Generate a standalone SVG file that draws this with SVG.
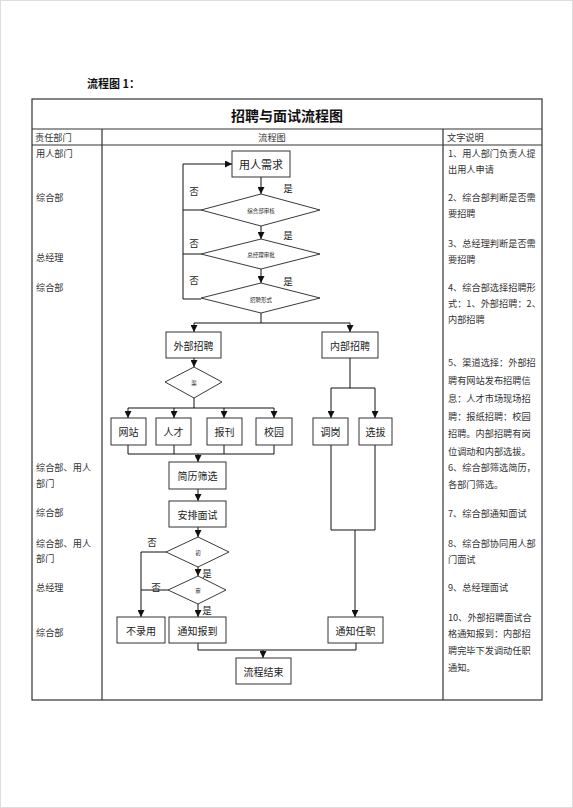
<svg xmlns="http://www.w3.org/2000/svg" width="573" height="808" viewBox="0 0 573 808">
<style>
text{font-family:"Noto Sans CJK SC","Liberation Sans",sans-serif;fill:#222}
.box{fill:#fff;stroke:#333;stroke-width:1}
.dia{fill:#fff;stroke:#222;stroke-width:0.9}
.bt{font-size:10px;text-anchor:middle;dominant-baseline:central}
.tiny{font-size:5.5px;text-anchor:middle;dominant-baseline:central}
.lbl{font-size:9.5px;text-anchor:middle;dominant-baseline:central}
.col{font-size:9.2px;fill:#333}
.tb{fill:none;stroke:#333;stroke-width:1.2}
.cn{fill:none;stroke:#111;stroke-width:1}
.ar{fill:none;stroke:#111;stroke-width:1;marker-end:url(#ah)}
</style>
<defs>
<marker id="ah" viewBox="0 0 8 8" refX="8" refY="4" markerWidth="7" markerHeight="7" markerUnits="userSpaceOnUse" orient="auto">
<path d="M0,0 L8,4 L0,8 z" fill="#111"/>
</marker>
</defs>
<rect x="0" y="0" width="573" height="808" fill="#fff"/>
<rect x="0.5" y="0.5" width="572" height="807" fill="none" stroke="#ddd" stroke-width="1"/>
<text x="87" y="88" style="font-size:11px;font-weight:bold;fill:#111">流程图 1：</text>

<g id="table">
<rect class="tb" x="32" y="99" width="510" height="601"/>
<line class="tb" x1="32" y1="129" x2="542" y2="129"/>
<line class="tb" x1="32" y1="145" x2="542" y2="145"/>
<line class="tb" x1="102" y1="129" x2="102" y2="700"/>
<line class="tb" x1="443" y1="129" x2="443" y2="700"/>
<text x="287" y="115" style="font-size:14px;font-weight:bold;text-anchor:middle;dominant-baseline:central;fill:#111">招聘与面试流程图</text>
<text x="35" y="141" class="col">责任部门</text>
<text x="272" y="141" class="col" style="text-anchor:middle">流程图</text>
<text x="447" y="141" class="col">文字说明</text>
</g>

<g id="dept-col">
<text class="col" x="36" y="157">用人部门</text>
<text class="col" x="36" y="201">综合部</text>
<text class="col" x="36" y="261">总经理</text>
<text class="col" x="36" y="291">综合部</text>
<text class="col" x="36" y="471">综合部、用人</text>
<text class="col" x="36" y="487">部门</text>
<text class="col" x="36" y="516">综合部</text>
<text class="col" x="36" y="547">综合部、用人</text>
<text class="col" x="36" y="562">部门</text>
<text class="col" x="36" y="591">总经理</text>
<text class="col" x="36" y="636">综合部</text>
</g>

<g id="desc-col">
<text class="col" x="448" y="157">1、用人部门负责人提</text>
<text class="col" x="448" y="173">出用人申请</text>
<text class="col" x="448" y="201">2、综合部判断是否需</text>
<text class="col" x="448" y="217">要招聘</text>
<text class="col" x="448" y="247">3、总经理判断是否需</text>
<text class="col" x="448" y="263">要招聘</text>
<text class="col" x="448" y="291">4、综合部选择招聘形</text>
<text class="col" x="448" y="307">式：1、外部招聘：2、</text>
<text class="col" x="448" y="323">内部招聘</text>
<text class="col" x="448" y="366">5、渠道选择：外部招</text>
<text class="col" x="448" y="384">聘有网站发布招聘信</text>
<text class="col" x="448" y="402">息：人才市场现场招</text>
<text class="col" x="448" y="420">聘：报纸招聘：校园</text>
<text class="col" x="448" y="437">招聘。内部招聘有岗</text>
<text class="col" x="448" y="455">位调动和内部选拔。</text>
<text class="col" x="448" y="471">6、综合部筛选简历，</text>
<text class="col" x="448" y="488">各部门筛选。</text>
<text class="col" x="448" y="517">7、综合部通知面试</text>
<text class="col" x="448" y="547">8、综合部协同用人部</text>
<text class="col" x="448" y="563">门面试</text>
<text class="col" x="448" y="591">9、总经理面试</text>
<text class="col" x="448" y="621">10、外部招聘面试合</text>
<text class="col" x="448" y="637">格通知报到：内部招</text>
<text class="col" x="448" y="654">聘完毕下发调动任职</text>
<text class="col" x="448" y="671">通知。</text>
</g>

<g id="connectors">
<line class="ar" x1="261" y1="177" x2="261" y2="194"/>
<line class="ar" x1="261" y1="226" x2="261" y2="239"/>
<line class="ar" x1="261" y1="269" x2="261" y2="283"/>
<polyline class="cn" points="201,210 183,210"/>
<polyline class="cn" points="201,254 183,254"/>
<polyline class="ar" points="201,299 183,299 183,164 232,164"/>
<line class="cn" x1="261" y1="313" x2="261" y2="323"/>
<line class="cn" x1="194" y1="323" x2="350" y2="323"/>
<line class="ar" x1="194" y1="323" x2="194" y2="332"/>
<line class="ar" x1="350" y1="323" x2="350" y2="332"/>
<line class="ar" x1="194" y1="358" x2="194" y2="367"/>
<line class="cn" x1="194" y1="398" x2="194" y2="408"/>
<line class="cn" x1="128" y1="408" x2="274" y2="408"/>
<line class="ar" x1="128" y1="408" x2="128" y2="418"/>
<line class="ar" x1="174" y1="408" x2="174" y2="418"/>
<line class="ar" x1="224" y1="408" x2="224" y2="418"/>
<line class="ar" x1="274" y1="408" x2="274" y2="418"/>
<polyline class="cn" points="128,445 128,454 274,454 274,445"/>
<line class="cn" x1="174" y1="445" x2="174" y2="454"/>
<line class="cn" x1="224" y1="445" x2="224" y2="454"/>
<line class="ar" x1="198" y1="454" x2="198" y2="462"/>
<line class="ar" x1="198" y1="489" x2="198" y2="501"/>
<line class="ar" x1="198" y1="527" x2="198" y2="537"/>
<line class="ar" x1="198" y1="567" x2="198" y2="576"/>
<line class="ar" x1="198" y1="604" x2="198" y2="617"/>
<polyline class="ar" points="166,552 141,552 141,617"/>
<line class="cn" x1="168" y1="590" x2="141" y2="590"/>
<line class="cn" x1="350" y1="358" x2="350" y2="388"/>
<line class="cn" x1="331" y1="388" x2="375" y2="388"/>
<line class="ar" x1="331" y1="388" x2="331" y2="418"/>
<line class="ar" x1="375" y1="388" x2="375" y2="418"/>
<polyline class="cn" points="331,445 331,530 375,530 375,445"/>
<line class="ar" x1="355" y1="530" x2="355" y2="617"/>
<polyline class="cn" points="198,643 198,650 356,650 356,643"/>
<line class="ar" x1="263" y1="650" x2="263" y2="658"/>
</g>

<g id="labels">
<text class="lbl" x="288" y="188">是</text>
<text class="lbl" x="194" y="191">否</text>
<text class="lbl" x="288" y="235">是</text>
<text class="lbl" x="194" y="243">否</text>
<text class="lbl" x="288" y="281">是</text>
<text class="lbl" x="194" y="280">否</text>
<text class="lbl" x="152" y="542">否</text>
<text class="lbl" x="207" y="573">是</text>
<text class="lbl" x="156" y="587">否</text>
<text class="lbl" x="207" y="610">是</text>
</g>

<g id="n-need"><rect class="box" x="232" y="151" width="58" height="26"/><text class="bt" x="261" y="164" style="font-size:11px">用人需求</text></g>
<g id="n-d1"><polygon class="dia" points="261,194 320,210 261,226 201,210"/><text class="tiny" x="261" y="211">综合部审核</text></g>
<g id="n-d2"><polygon class="dia" points="261,239 320,254 261,269 201,254"/><text class="tiny" x="261" y="255">总经理审批</text></g>
<g id="n-d3"><polygon class="dia" points="261,283 320,298 261,313 201,298"/><text class="tiny" x="261" y="300">招聘形式</text></g>
<g id="n-ext"><rect class="box" x="166" y="332" width="55" height="26"/><text class="bt" x="193.5" y="345">外部招聘</text></g>
<g id="n-int"><rect class="box" x="322" y="332" width="56" height="26"/><text class="bt" x="350" y="345">内部招聘</text></g>
<g id="n-ch"><polygon class="dia" points="194,367 222,382 194,398 165,382"/><text class="tiny" x="194" y="383">渠</text></g>
<g id="n-web"><rect class="box" x="111" y="418" width="35" height="27"/><text class="bt" x="128.5" y="431.5">网站</text></g>
<g id="n-talent"><rect class="box" x="156" y="418" width="35" height="27"/><text class="bt" x="173.5" y="431.5">人才</text></g>
<g id="n-paper"><rect class="box" x="207" y="418" width="35" height="27"/><text class="bt" x="224.5" y="431.5">报刊</text></g>
<g id="n-campus"><rect class="box" x="256" y="418" width="36" height="27"/><text class="bt" x="274" y="431.5">校园</text></g>
<g id="n-transfer"><rect class="box" x="313" y="418" width="35" height="27"/><text class="bt" x="330.5" y="431.5">调岗</text></g>
<g id="n-select"><rect class="box" x="359" y="418" width="33" height="27"/><text class="bt" x="375.5" y="431.5">选拔</text></g>
<g id="n-screen"><rect class="box" x="169" y="462" width="57" height="27"/><text class="bt" x="197.5" y="475.5">简历筛选</text></g>
<g id="n-arrange"><rect class="box" x="169" y="501" width="57" height="26"/><text class="bt" x="197.5" y="514">安排面试</text></g>
<g id="n-first"><polygon class="dia" points="198,537 229,552 198,567 166,552"/><text class="tiny" x="198" y="553">初</text></g>
<g id="n-second"><polygon class="dia" points="198,576 226,590 198,604 168,590"/><text class="tiny" x="198" y="591">审</text></g>
<g id="n-reject"><rect class="box" x="117" y="617" width="48" height="26"/><text class="bt" x="141" y="630">不录用</text></g>
<g id="n-report"><rect class="box" x="169" y="617" width="57" height="26"/><text class="bt" x="197.5" y="630">通知报到</text></g>
<g id="n-appoint"><rect class="box" x="328" y="617" width="55" height="26"/><text class="bt" x="355.5" y="630">通知任职</text></g>
<g id="n-end"><rect class="box" x="236" y="658" width="55" height="26"/><text class="bt" x="263.5" y="671">流程结束</text></g>
</svg>
